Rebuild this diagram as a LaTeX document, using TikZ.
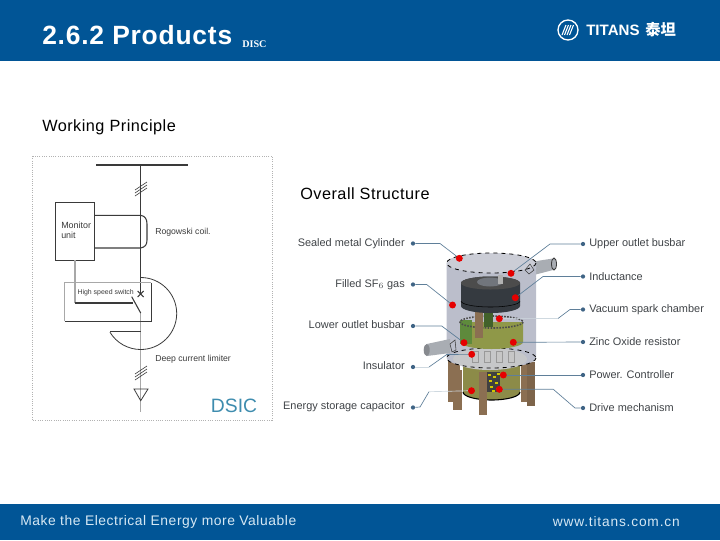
\documentclass[tikz,border=0pt]{standalone}
\usepackage{fontspec}
\setmainfont{Liberation Sans}
\newfontfamily\cjkfont{Noto Sans CJK SC}
\newfontfamily\spacedfont[LetterSpace=4]{Liberation Sans}
\newfontfamily\sitefont[LetterSpace=6]{Liberation Sans}
\newfontfamily\titlefont[LetterSpace=3]{Liberation Sans}
\newfontfamily\slabfont{Liberation Serif}
\usepackage{tikz}
\definecolor{titansblue}{HTML}{015596}
\definecolor{footertext}{HTML}{D6E8F4}
\definecolor{labelgray}{HTML}{3F4347}
\definecolor{leaderblue}{HTML}{5F7F99}
\definecolor{bulletblue}{HTML}{3F6485}
\definecolor{linedark}{HTML}{3A3A3A}
\definecolor{linegray}{HTML}{A8A8A8}
\definecolor{shellgray}{HTML}{BBBECB}
\definecolor{shelltop}{HTML}{CBCDD6}
\definecolor{pipegray}{HTML}{A9ADB3}
\definecolor{legbrown}{HTML}{8B6F52}
\definecolor{ringolive}{HTML}{8F9848}
\definecolor{ringgreen}{HTML}{5E8A3C}
\definecolor{drumolive}{HTML}{8C8B48}
\definecolor{coalblack}{HTML}{353A40}
\definecolor{plategray}{HTML}{C6C7C9}
\definecolor{dsicblue}{HTML}{3E8CAE}
\tikzstyle{heading} = [inner sep=0pt, anchor=west, text=black, font=\titlefont\fontsize{12.2}{15}\selectfont]
\tikzstyle{sketchtext} = [inner sep=0pt, anchor=west, text=linedark, font=\fontsize{6.5}{10}\selectfont]
\tikzstyle{partleft} = [inner sep=0pt, anchor=east, text=labelgray, font=\fontsize{8.2}{10}\selectfont]
\tikzstyle{partright} = [inner sep=0pt, anchor=west, text=labelgray, font=\fontsize{8.2}{10}\selectfont]
\tikzstyle{spot} = [circle, minimum width=5.2pt, fill=red!90!black, inner sep=0pt]
\tikzstyle{bullet} = [circle, minimum width=3.2pt, fill=bulletblue, inner sep=0pt]
\tikzstyle{leader} = [draw=leaderblue, line width=.5pt]
\tikzstyle{faintleader} = [draw=leaderblue!30, line width=.5pt]
\tikzstyle{darkline} = [draw=linedark, line width=.8pt]
\tikzstyle{grayline} = [draw=linegray, line width=.8pt]
\tikzstyle{rim} = [draw=black, dashed, line width=.6pt]
\begin{document}
\begin{tikzpicture}[x=.75pt, y=-.75pt]
	\useasboundingbox (0,0) rectangle (720,540);
	\fill[titansblue] (0,0) rectangle (720,61);
	\fill[titansblue] (0,504) rectangle (720,540);
	\node[inner sep=0pt, anchor=west, text=white, font=\titlefont\bfseries\fontsize{19.8}{22}\selectfont] (title) at (42,35) {2.6.2 Products};
	\node[inner sep=0pt, anchor=west, text=white, font=\slabfont\fontsize{7.6}{8}\selectfont] (disc) at (242,44) {\textbf{DISC}};
	\node[circle, draw=white, line width=1pt, minimum width=15pt, inner sep=0pt] (logo) at (568,30) {};
	\foreach \lx in {-4,-1.5,1,3.5}
		\draw[white, line width=.8pt] (568+\lx-2,35) -- (568+\lx+2,25);
	\node[inner sep=0pt, anchor=west, text=white, font=\bfseries\fontsize{11.3}{12}\selectfont] (brand) at (586,30) {TITANS};
	\node[inner sep=0pt, anchor=west, text=white, font=\cjkfont\bfseries\fontsize{11.5}{12}\selectfont] (brandcn) at (645,30) {泰坦};
	\node[inner sep=0pt, anchor=west, text=footertext, font=\spacedfont\fontsize{10.4}{12}\selectfont] (slogan) at (20,522) {Make the Electrical Energy more Valuable};
	\node[inner sep=0pt, anchor=east, text=footertext, font=\sitefont\fontsize{10.3}{12}\selectfont] (site) at (680,522) {www.titans.com.cn};
	\node[heading] (principle) at (42,127) {Working Principle};
	\node[heading] (structure) at (300,193.5) {Overall Structure};

	\draw[gray!60, densely dotted, line width=.7pt] (32,156) rectangle (272,420);
	\coordinate (busleft) at (96,165);
	\coordinate (busright) at (188,165);
	\coordinate (bustap) at (140.7,165);
	\coordinate (cross) at (140.7,294);
	\coordinate (armtop) at (131.7,296.7);
	\coordinate (armend) at (140.7,313);
	\coordinate (earth) at (140.7,412);
	\coordinate (cointop) at (140.7,215.3);
	\coordinate (coinbot) at (140.7,248);
	\coordinate (feedbend) at (75,303);
	\coordinate (feedend) at (133,303);
	\coordinate (arcstart) at (140.7,277.5);
	\coordinate (limitleft) at (110,331.7);
	\coordinate (limitright) at (140.7,331.7);
	\coordinate (earthleft) at (134,389);
	\coordinate (earthright) at (148,389);
	\coordinate (earthtip) at (140.7,400.7);
	\node[draw=linedark, fill=white, line width=.7pt, minimum width=29.2pt, minimum height=43.5pt, inner sep=0pt] (monitor) at (74.5,231) {};
	\node[sketchtext, align=left, font=\fontsize{6.7}{7.6}\selectfont] (monitortext) at (61,230) {Monitor\\unit};
	\node[minimum width=64.5pt, minimum height=28.5pt, inner sep=0pt] (switchbox) at (108,302) {};
	\node[sketchtext, font=\fontsize{5.2}{6}\selectfont] (switchtext) at (77.3,293) {High speed switch};
	\node[sketchtext] (coiltext) at (155,232.6) {Rogowski coil.};
	\node[sketchtext] (limittext) at (155,359) {Deep current limiter};
	\node[inner sep=0pt, text=dsicblue, font=\fontsize{14.5}{16}\selectfont] (dsic) at (234,406) {DSIC};
	\draw[darkline] (busleft) -- (busright);
	\draw[darkline] (bustap) -- (cross);
	\draw[grayline] (armend) -- (earth);
	\draw[darkline] (monitor.east |- cointop) -- (cointop) .. controls (145,216) and (147,219) .. (147,224) -- (147,240) .. controls (147,245) and (145,247) .. (coinbot) -- (monitor.east |- coinbot);
	\draw[grayline] (monitor.south -| feedbend) -- (feedbend);
	\draw[darkline] (feedbend) -- (feedend);
	\draw[darkline] (armtop) -- (armend);
	\draw[grayline] (switchbox.south west) -- (switchbox.north west) -- (switchbox.north east);
	\draw[darkline] (switchbox.north east) -- (switchbox.south east) -- (switchbox.south west);
	\draw[darkline, line width=.6pt] (arcstart) arc[start angle=-90, end angle=148.6, radius=36];
	\draw[darkline] (limitleft) -- (limitright);
	\draw[darkline] ([shift={(-3,-3)}]cross) -- ([shift={(3,3)}]cross);
	\draw[darkline] ([shift={(-3,3)}]cross) -- ([shift={(3,-3)}]cross);
	\foreach \hy in {189,373}
		\foreach \hd in {-3,0,3}
			\draw[draw=linedark, line width=.5pt] (135,\hy+\hd+4) -- (147,\hy+\hd-4);
	\draw[draw=linedark, line width=.6pt] (earthleft) -- (earthright) -- (earthtip) -- cycle;

	\fill[pipegray] (530,262) -- (553,258.5) -- (555,269.5) -- (530,276) -- cycle;
	\fill[legbrown] (448,358) rectangle (460,402);
	\fill[legbrown] (521,362) rectangle (530,402);
	\fill[legbrown!90!black] (527,362) rectangle (535,406);
	\fill[drumolive] (463,366) -- (463,392) arc[start angle=180, end angle=0, x radius=28.5, y radius=8] -- (520,366) -- cycle;
	\draw[black, line width=.8pt] (463,392) arc[start angle=180, end angle=0, x radius=28.5, y radius=8];
	\fill[black!75] (487,372) rectangle (500,392);
	\foreach \bx/\by in {488/374,493/376,497/373,489/380,495/382,490/386,496/388,492/390}
		\fill[yellow!60!olive] (\bx,\by) rectangle (\bx+3,\by+2);
	\fill[legbrown] (453,370) rectangle (462,410);
	\fill[legbrown] (479,372) rectangle (487,415);
	\fill[shellgray] (446.7,263) -- (446.7,358) arc[start angle=180, end angle=0, x radius=44.65, y radius=10] -- (536,263) arc[start angle=0, end angle=-180, x radius=44.65, y radius=10] -- cycle;
	\fill[shelltop] (491.3,263) ellipse[x radius=44.65, y radius=10];
	\fill[pipegray] (426.7,344) -- (450,339) -- (450,353) -- (427,356) -- cycle;
	\fill[pipegray!80!black] (426.7,350) ellipse[x radius=3, y radius=6];
	\draw[linedark, line width=.6pt, fill=pipegray] (554,264) ellipse[x radius=2.5, y radius=6];
	\fill[plategray] (490,359) ellipse[x radius=37, y radius=11];
	\draw[rim] (491.3,358) ellipse[x radius=44.65, y radius=10];
	\foreach \gx in {472,484,496,508}
		\draw[gray!80, fill=gray!45, line width=.4pt] (\gx,351) rectangle (\gx+6,362);

	\fill[ringolive] (460,322) -- (460,342) arc[start angle=180, end angle=0, x radius=31.5, y radius=7] -- (523,322) -- cycle;
	\fill[ringgreen] (460,320) rectangle (472,344);
	\draw[black!70, densely dotted, line width=1.2pt] (491.5,322) ellipse[x radius=31.5, y radius=6];
	\fill[legbrown] (475,312) rectangle (483,338);
	\fill[ringgreen!70!black] (484,313) rectangle (493,327);
	\fill[coalblack] (461,283) -- (461,306) arc[start angle=180, end angle=0, x radius=29.5, y radius=7] -- (520,283) arc[start angle=0, end angle=-180, x radius=29.5, y radius=6.5] -- cycle;
	\fill[black!70] (490.5,283) ellipse[x radius=29.5, y radius=6.5];
	\fill[coalblack!60!shelltop] (490,282) ellipse[x radius=13, y radius=4.5];
	\draw[black, line width=.4pt] (461,301) arc[start angle=180, end angle=0, x radius=29.5, y radius=6];
	\fill[gray!60!white] (498,275) rectangle (503,284);
	\draw[rim] (491.3,263) ellipse[x radius=44.65, y radius=10];
	\draw[linedark, line width=.4pt] (525,270) -- (530,264) -- (534,270) -- (529,274) -- cycle;
	\draw[linedark, line width=.4pt] (450,344) -- (455,340) -- (456,350) -- (452,352) -- cycle;

	\node[spot] (spotcylinder) at (459.3,258.3) {};
	\node[spot] (spotgas) at (452.5,305) {};
	\node[spot] (spotlower) at (464,342.7) {};
	\node[spot] (spotinsulator) at (471.7,354.3) {};
	\node[spot] (spotcapacitor) at (471.5,390.7) {};
	\node[spot] (spotupper) at (511,273.3) {};
	\node[spot] (spotinductance) at (515.3,297.7) {};
	\node[spot] (spotvacuum) at (499.3,318.7) {};
	\node[spot] (spotzinc) at (513.3,342.3) {};
	\node[spot] (spotpower) at (503.3,375) {};
	\node[spot] (spotdrive) at (499.3,389.3) {};

	\node[bullet] (bcylinder) at (413,243.5) {};
	\node[bullet] (bgas) at (413,284.5) {};
	\node[bullet] (blower) at (413,326) {};
	\node[bullet] (binsulator) at (413,367) {};
	\node[bullet] (bcapacitor) at (413,407.5) {};
	\node[bullet] (bupper) at (583,244) {};
	\node[bullet] (binductance) at (583,276.5) {};
	\node[bullet] (bvacuum) at (583,309.5) {};
	\node[bullet] (bzinc) at (583,342) {};
	\node[bullet] (bpower) at (583,375) {};
	\node[bullet] (bdrive) at (583,408) {};

	\node[partleft] (lcylinder) at (405,243.5) {Sealed metal Cylinder};
	\node[partleft] (lgas) at (405,284.5) {Filled SF$_6$ gas};
	\node[partleft] (llower) at (405,325) {Lower outlet busbar};
	\node[partleft] (linsulator) at (405,365.5) {Insulator};
	\node[partleft] (lcapacitor) at (405,407) {Energy storage capacitor};
	\node[partright] (lupper) at (589,244) {Upper outlet busbar};
	\node[partright] (linductance) at (589,276.5) {Inductance};
	\node[partright] (lvacuum) at (589,310) {Vacuum spark chamber};
	\node[partright] (lzinc) at (589,342) {Zinc Oxide resistor};
	\node[partright] (lpower) at (589,375) {Power. Controller};
	\node[partright] (ldrive) at (589,407.5) {Drive mechanism};

	\coordinate (kcylinder) at (440,243.5);
	\coordinate (kgas) at (426.7,284.5);
	\coordinate (klower) at (441.7,326);
	\coordinate (kinsulatora) at (429,367);
	\coordinate (kinsulatorb) at (446.7,354.5);
	\coordinate (kcapacitora) at (420,407);
	\coordinate (kcapacitorb) at (429,391.7);
	\coordinate (kupper) at (550,244);
	\coordinate (kinductance) at (543,276.5);
	\coordinate (kvacuuma) at (570,309.5);
	\coordinate (kvacuumb) at (558,318.5);
	\coordinate (kdrivea) at (575,408);
	\coordinate (kdriveb) at (553.3,389.3);
	\draw[leader] (bcylinder) -- (kcylinder) -- (spotcylinder);
	\draw[leader] (bgas) -- (kgas) -- (spotgas);
	\draw[leader] (blower) -- (klower) -- (spotlower);
	\draw[faintleader] (binsulator) -- (kinsulatora);
	\draw[leader] (kinsulatora) -- (kinsulatorb) -- (spotinsulator);
	\draw[leader] (bcapacitor) -- (kcapacitora) -- (kcapacitorb);
	\draw[faintleader] (kcapacitorb) -- (spotcapacitor);
	\draw[leader] (bupper) -- (kupper) -- (spotupper);
	\draw[leader] (binductance) -- (kinductance) -- (spotinductance);
	\draw[leader] (bvacuum) -- (kvacuuma) -- (kvacuumb);
	\draw[faintleader] (kvacuumb) -- (spotvacuum);
	\draw[leader] (bzinc) -- (spotzinc);
	\draw[leader] (bpower) -- (spotpower);
	\draw[leader] (bdrive) -- (kdrivea) -- (kdriveb) -- (spotdrive);
\end{tikzpicture}
\end{document}
